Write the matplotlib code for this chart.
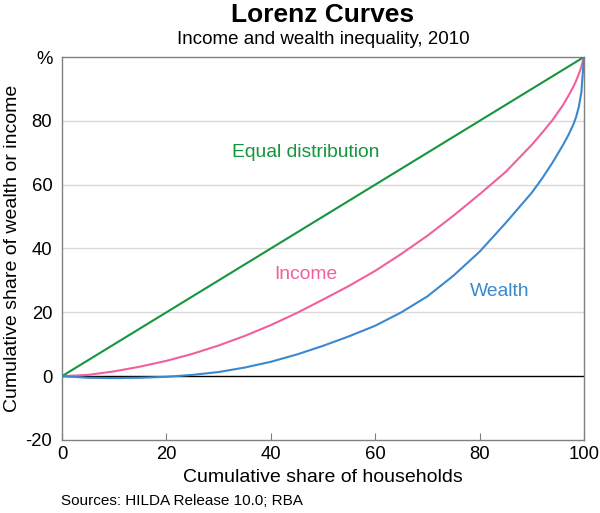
import matplotlib
matplotlib.use("Agg")
import matplotlib.pyplot as plt

plt.rcParams['font.family'] = ['Liberation Sans', 'DejaVu Sans']

households = [0, 5, 10, 15, 20, 25, 30, 35, 40, 45, 50, 55, 60, 65, 70, 75, 80, 85,
              90, 92, 94, 96, 97, 98, 98.5, 99, 99.5, 100]
equal = list(households)
income = [0, 0.4, 1.5, 3.0, 4.8, 7.0, 9.6, 12.6, 16, 19.8, 24, 28.3, 33, 38.3, 44, 50.3,
          57, 64, 72.5, 76.3, 80.3, 85, 87.8, 90.8, 92.6, 94.6, 97, 100]
wealth = [0, -0.5, -0.6, -0.5, -0.2, 0.4, 1.3, 2.7, 4.5, 6.8, 9.5, 12.5, 15.8, 20, 25,
          31.5, 39, 48, 57.5, 62, 67, 72.5, 75.5, 79, 81.3, 84.3, 89, 100]

xticks = [0, 20, 40, 60, 80, 100]
yticks = [-20, 0, 20, 40, 60, 80, 100]
yticklabels = ['-20', '0', '20', '40', '60', '80', '%']

green = '#14963c'
pink = '#f0609e'
blue = '#3a88d0'

fig = plt.figure(figsize=(6, 5.13), dpi=100)
ax = fig.add_axes([62/600, 1-440/513, 522/600, 383/513])

for v in [20, 40, 60, 80]:
    ax.axhline(v, color='#d9d9d9', lw=1, zorder=1)
ax.axhline(0, color='black', lw=1, zorder=2)

ax.plot(households, equal, color=green, lw=1.5, zorder=3)
ax.plot(households, income, color=pink, lw=1.5, zorder=3)
ax.plot(households, wealth, color=blue, lw=1.5, zorder=3)

ax.text(46.7, 70.2, 'Equal distribution', color=green, fontsize=13.9, ha='center', va='center')
ax.text(46.7, 32, 'Income', color=pink, fontsize=13.9, ha='center', va='center')
ax.text(83.9, 26.6, 'Wealth', color=blue, fontsize=13.9, ha='center', va='center')

ax.set_xlim(0, 100)
ax.set_ylim(-20, 100)
ax.set_xticks(xticks)
ax.set_xticklabels([str(t) for t in xticks], fontsize=13.3)
ax.set_yticks(yticks)
ax.set_yticklabels(yticklabels, fontsize=13.3)
ax.tick_params(axis='x', direction='in', length=5, color='#808080', pad=4)
ax.tick_params(axis='y', length=0, pad=7)
for s in ax.spines.values():
    s.set_color('#808080')
    s.set_linewidth(1)

ax.set_xlabel('Cumulative share of households', fontsize=14, labelpad=5)
ax.set_ylabel('Cumulative share of wealth or income', fontsize=14, labelpad=3)

cx = (62 + 584) / 2 / 600
fig.text(cx, 1-15/513, 'Lorenz Curves', ha='center', va='center', fontsize=19, fontweight='bold')
fig.text(cx, 1-40/513, 'Income and wealth inequality, 2010', ha='center', va='center', fontsize=13.5)
fig.text(61/600, 1-501/513, 'Sources: HILDA Release 10.0; RBA', ha='left', va='center', fontsize=11)

fig.savefig('out.png', dpi=100)
